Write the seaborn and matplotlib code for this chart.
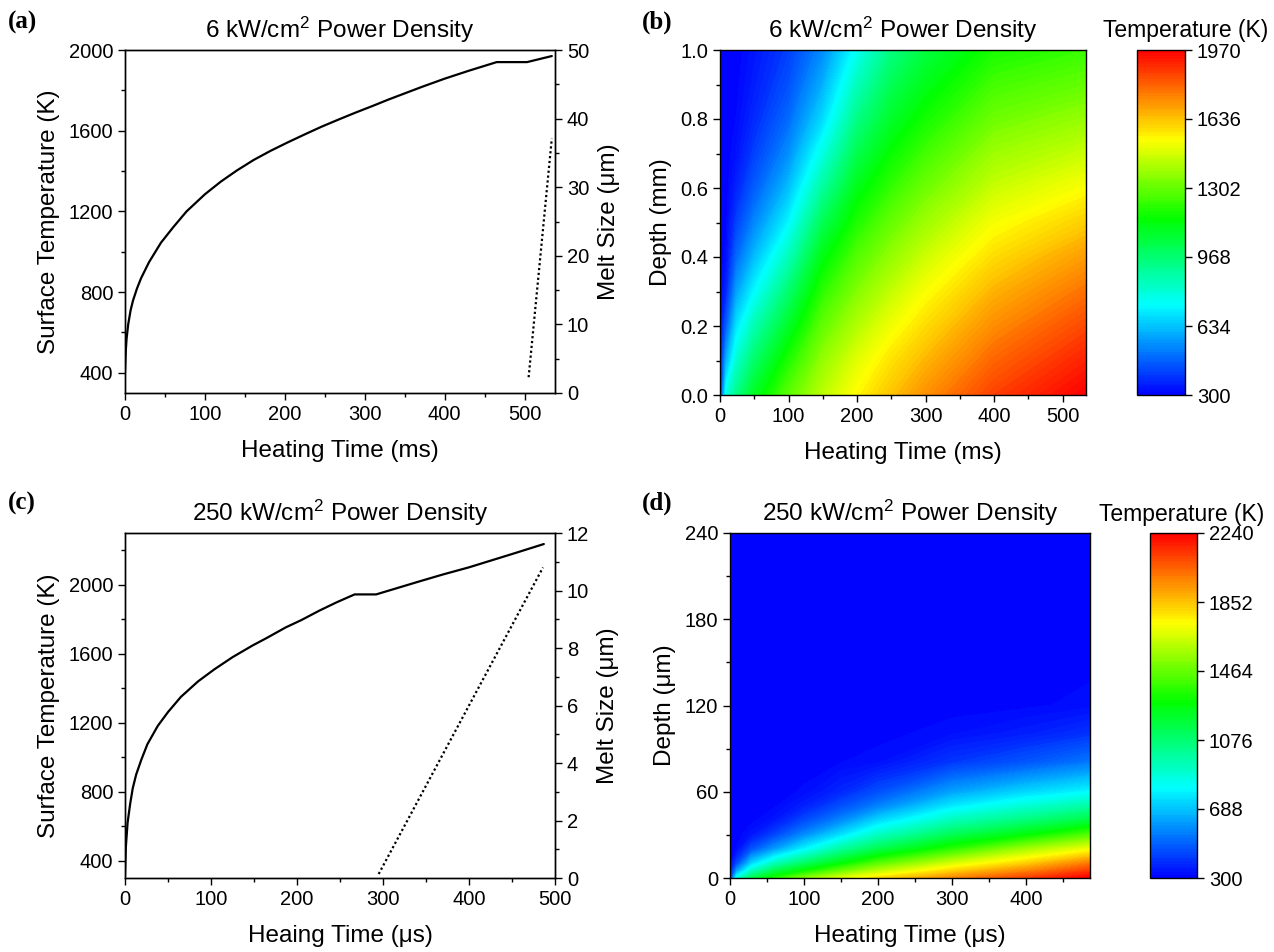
import numpy as np
import matplotlib
matplotlib.use("Agg")
import matplotlib.pyplot as plt
from matplotlib.colors import LinearSegmentedColormap
from matplotlib.ticker import MultipleLocator, FormatStrFormatter
import seaborn as sns

sns.set_theme(style="ticks")
plt.rcParams['font.family'] = ['Liberation Sans', 'DejaVu Sans']
plt.rcParams['mathtext.fontset'] = 'custom'
plt.rcParams['mathtext.rm'] = 'Liberation Sans'
plt.rcParams['mathtext.it'] = 'Liberation Sans:italic'
plt.rcParams['axes.linewidth'] = 1.0
plt.rcParams['axes.edgecolor'] = 'black'
plt.rcParams['text.color'] = 'black'
plt.rcParams['axes.labelcolor'] = 'black'
plt.rcParams['axes.titlecolor'] = 'black'
plt.rcParams['xtick.color'] = 'black'
plt.rcParams['ytick.color'] = 'black'
plt.rcParams['xtick.labelcolor'] = 'black'
plt.rcParams['ytick.labelcolor'] = 'black'
plt.rcParams['xtick.direction'] = 'out'
plt.rcParams['ytick.direction'] = 'out'

# ---- (a) 6 kW/cm2 : surface temperature and melt size vs time (ms)
time_a = [0, 1, 2, 4, 7, 10, 15, 20, 30, 45, 60, 77, 100, 120, 140, 161, 182,
          203, 225, 246, 267, 288, 310, 330, 350, 372, 400, 430, 465, 503, 534]
temp_a = [400, 510, 570, 640, 710, 758, 818, 868, 948, 1045, 1120, 1200, 1285,
          1348, 1403, 1455, 1500, 1541, 1582, 1620, 1655, 1689, 1723, 1755,
          1785, 1818, 1858, 1897, 1940, 1940, 1970]
melt_time_a = [505, 534]
melt_a = [2.3, 37.1]

# ---- (c) 250 kW/cm2 : surface temperature and melt size vs time (us)
time_c = [0, 1, 3, 6, 9, 13, 19, 26, 38, 50, 65, 85, 104, 125, 148, 165, 187,
          205, 226, 246, 267, 292, 316, 342, 370, 400, 450, 487]
temp_c = [310, 480, 620, 730, 820, 900, 986, 1075, 1181, 1262, 1350, 1440,
          1510, 1580, 1647, 1692, 1753, 1795, 1850, 1898, 1944, 1944, 1980,
          2019, 2060, 2101, 2178, 2236]
melt_time_c = [295, 486]
melt_c = [0.14, 10.8]

# ---- (b) temperature field, depth 0..1 mm, one depth profile per time (ms)
time_b = [0, 10, 25, 50, 100, 150, 200, 250, 300, 400, 534]
depth_b = [0.0, 0.1, 0.2, 0.3, 0.4, 0.5, 0.6, 0.7, 0.8, 0.9, 1.0]
profiles_b = [
    [300, 300, 300, 300, 300, 300, 300, 300, 300, 300, 300],
    [780, 600, 460, 365, 322, 308, 302, 300, 300, 300, 300],
    [930, 810, 690, 575, 480, 410, 360, 330, 315, 307, 303],
    [1090, 975, 855, 725, 615, 525, 455, 405, 370, 348, 335],
    [1285, 1190, 1080, 965, 840, 720, 620, 540, 480, 435, 405],
    [1430, 1370, 1295, 1210, 1120, 1010, 890, 775, 670, 595, 535],
    [1541, 1485, 1415, 1345, 1270, 1190, 1110, 1020, 930, 840, 750],
    [1635, 1578, 1510, 1440, 1370, 1300, 1225, 1155, 1080, 1010, 940],
    [1720, 1655, 1590, 1525, 1455, 1385, 1315, 1245, 1175, 1110, 1045],
    [1858, 1795, 1728, 1660, 1590, 1520, 1450, 1385, 1315, 1250, 1185],
    [1970, 1910, 1845, 1775, 1700, 1615, 1530, 1450, 1375, 1300, 1230],
]
ticks_b = [300, 634, 968, 1302, 1636, 1970]

# ---- (d) temperature field, depth 0..240 um, one depth profile per time (us)
time_d = [0, 10, 30, 60, 100, 150, 200, 300, 400, 486]
depth_d = [0, 5, 10, 20, 30, 40, 50, 60, 80, 100, 120, 160, 240]
profiles_d = [
    [300, 300, 300, 300, 300, 300, 300, 300, 300, 300, 300, 300, 300],
    [845, 600, 440, 320, 302, 300, 300, 300, 300, 300, 300, 300, 300],
    [1120, 900, 720, 460, 340, 308, 301, 300, 300, 300, 300, 300, 300],
    [1318, 1120, 920, 600, 430, 340, 310, 302, 300, 300, 300, 300, 300],
    [1500, 1275, 1090, 780, 570, 440, 360, 320, 303, 300, 300, 300, 300],
    [1660, 1450, 1265, 980, 740, 565, 450, 375, 315, 302, 300, 300, 300],
    [1779, 1590, 1430, 1130, 910, 720, 552, 450, 330, 305, 300, 300, 300],
    [1955, 1800, 1650, 1350, 1120, 930, 760, 615, 410, 330, 305, 300, 300],
    [2101, 1960, 1820, 1560, 1265, 1050, 880, 720, 470, 360, 310, 300, 300],
    [2240, 2110, 1990, 1700, 1420, 1160, 970, 790, 540, 400, 325, 302, 300],
]
ticks_d = [300, 688, 1076, 1464, 1852, 2240]

rainbow = LinearSegmentedColormap.from_list(
    "origin_rainbow",
    [(0.0, "#0000ff"), (0.26, "#00ffff"), (0.51, "#00ff00"),
     (0.74, "#ffff00"), (1.0, "#ff0000")])

W, H = 1274, 952
fig = plt.figure(figsize=(W / 100, H / 100), dpi=100)


def rect(l, t, r, b):
    return [l / W, 1 - b / H, (r - l) / W, (b - t) / H]


TICK = 14.5
LAB = 17.5


def style_axis(ax):
    ax.tick_params(which='major', length=5, width=1.0, labelsize=TICK, top=False,
                   colors='black')
    ax.tick_params(which='minor', length=3, width=1.0, top=False, colors='black')
    for s in ax.spines.values():
        s.set_visible(True)
        s.set_linewidth(1.0)
        s.set_color('black')


def line_panel(rect_, t, T, mt, m, xmax, ymin, ymax, mmax, mmajor, xlabel, title):
    ax = fig.add_axes(rect_)
    sns.lineplot(x=t, y=T, ax=ax, color='black', linewidth=1.6)
    ax.set_xlim(0, xmax)
    ax.set_ylim(ymin, ymax)
    ax.xaxis.set_major_locator(MultipleLocator(100))
    ax.xaxis.set_minor_locator(MultipleLocator(50))
    ax.yaxis.set_major_locator(MultipleLocator(400))
    ax.yaxis.set_minor_locator(MultipleLocator(200))
    ax.set_xlabel(xlabel, fontsize=LAB, labelpad=12)
    ax.set_ylabel('Surface Temperature (K)', fontsize=LAB, labelpad=6)
    ax.set_title(title, fontsize=LAB, pad=9)
    style_axis(ax)
    ax.tick_params(right=False)
    ax2 = ax.twinx()
    sns.lineplot(x=mt, y=m, ax=ax2, color='black', linewidth=1.6,
                 linestyle=(0, (1, 1.2)))
    ax2.set_ylim(0, mmax)
    ax2.yaxis.set_major_locator(MultipleLocator(mmajor))
    ax2.yaxis.set_minor_locator(MultipleLocator(mmajor / 2))
    ax2.set_ylabel('Melt Size (\u03bcm)', fontsize=LAB, labelpad=6)
    style_axis(ax2)
    ax2.tick_params(left=False, right=True, labelleft=False, labelright=True)
    return ax


def map_panel(rect_, cbar_rect, t, z, profiles, ticks, xmax, ymax,
              ymajor, yfmt, xlabel, ylabel, title, cbar_title_xy):
    ax = fig.add_axes(rect_)
    Z = np.array(profiles).T
    levels = np.linspace(ticks[0], ticks[-1], 121)
    cf = ax.contourf(t, z, Z, levels=levels, cmap=rainbow,
                     vmin=ticks[0], vmax=ticks[-1])
    cf.set_edgecolor('face')
    ax.set_xlim(0, xmax)
    ax.set_ylim(0, ymax)
    ax.xaxis.set_major_locator(MultipleLocator(100))
    ax.xaxis.set_minor_locator(MultipleLocator(50))
    ax.yaxis.set_major_locator(MultipleLocator(ymajor))
    ax.yaxis.set_minor_locator(MultipleLocator(ymajor / 2))
    if yfmt:
        ax.yaxis.set_major_formatter(FormatStrFormatter(yfmt))
    ax.set_xlabel(xlabel, fontsize=LAB, labelpad=12)
    ax.set_ylabel(ylabel, fontsize=LAB, labelpad=6)
    ax.set_title(title, fontsize=LAB, pad=9)
    style_axis(ax)
    ax.tick_params(right=False)
    cax = fig.add_axes(cbar_rect)
    cb = fig.colorbar(cf, cax=cax, ticks=ticks)
    cb.outline.set_linewidth(1.0)
    cb.outline.set_edgecolor('black')
    cax.tick_params(length=5, width=1.0, labelsize=TICK, direction='out',
                    colors='black')
    cax.minorticks_off()
    fig.text(cbar_title_xy[0] / W, 1 - cbar_title_xy[1] / H, 'Temperature (K)',
             fontsize=16.5, ha='center', va='center')
    return ax


line_panel(rect(125, 50, 555, 393), time_a, temp_a, melt_time_a, melt_a,
           538, 300, 2000, 50, 10, 'Heating Time (ms)',
           r'6 kW/cm$^2$ Power Density')
line_panel(rect(125, 533, 555, 878), time_c, temp_c, melt_time_c, melt_c,
           500, 300, 2300, 12, 2, 'Heaing Time (\u03bcs)',
           r'250 kW/cm$^2$ Power Density')

map_panel(rect(720, 50, 1086, 395), rect(1137, 50, 1185, 395),
          time_b, depth_b, profiles_b, ticks_b, 534, 1.0, 0.2, '%.1f',
          'Heating Time (ms)', 'Depth (mm)', r'6 kW/cm$^2$ Power Density',
          (1186, 30))
map_panel(rect(730, 533, 1090, 878), rect(1150, 533, 1197, 878),
          time_d, depth_d, profiles_d, ticks_d, 486, 240, 60, None,
          'Heating Time (\u03bcs)', 'Depth (\u03bcm)', r'250 kW/cm$^2$ Power Density',
          (1182, 515))

for lab, x, y in [('(a)', 8, 22), ('(b)', 642, 22), ('(c)', 8, 503), ('(d)', 642, 503)]:
    fig.text(x / W, 1 - y / H, lab, fontsize=18, fontweight='bold',
             family=['Liberation Serif', 'DejaVu Serif'], va='center', ha='left')

fig.savefig('out.png', dpi=100)
